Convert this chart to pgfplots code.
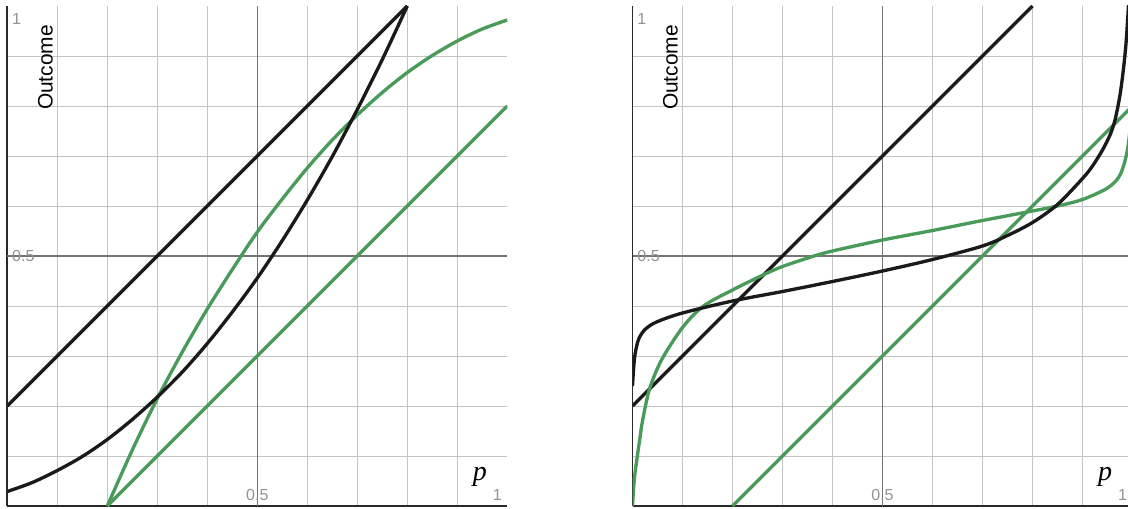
\documentclass[border=0pt]{standalone}
\usepackage{fontspec}
\setmainfont{Liberation Sans}
\newfontfamily\seriffont{Liberation Serif}
\usepackage{pgfplots}
\pgfplotsset{compat=1.18}
\definecolor{dgreen}{HTML}{4A9A5A}
\definecolor{cblack}{HTML}{1A1A1A}
\definecolor{minorgrid}{HTML}{C4C4C4}
\definecolor{majorgrid}{HTML}{737373}
\definecolor{axisc}{HTML}{2A2A2A}
\definecolor{lbl}{HTML}{929292}
\pgfplotsset{
  panel/.style={
    scale only axis, width=375pt, height=375pt,
    xmin=0, xmax=1, ymin=0, ymax=1,
    axis lines*=left,
    axis line style={color=axisc, line width=1.4pt, -},
    xtick={0.1,0.2,0.3,0.4,0.6,0.7,0.8,0.9},
    ytick={0.1,0.2,0.3,0.4,0.6,0.7,0.8,0.9},
    xticklabel=\empty, yticklabel=\empty,
    major tick length=0pt,
    grid=major,
    major grid style={color=minorgrid, line width=0.7pt},
    extra x ticks={0.5}, extra y ticks={0.5},
    extra x tick labels={}, extra y tick labels={},
    extra tick style={grid=major, major grid style={color=majorgrid, line width=0.8pt}},
    clip=true,
    every axis plot/.append style={mark=none},
  },
  bcurve/.style={color=cblack, line width=2.5pt},
  gcurve/.style={color=dgreen, line width=2.5pt},
}
\newcommand{\ticklabels}{%
  \node[anchor=base, yshift=4pt, inner sep=0pt, text=lbl, font=\fontsize{12}{14}\selectfont] at (axis cs:0.5,0) {0.5};
  \node[anchor=base east, xshift=-4pt, yshift=4pt, inner sep=0pt, text=lbl, font=\fontsize{12}{14}\selectfont] at (axis cs:1,0) {1};
  \node[anchor=west, xshift=3.5pt, inner sep=0pt, text=lbl, font=\fontsize{12}{14}\selectfont] at (axis cs:0,0.5) {0.5};
  \node[anchor=north west, xshift=3.5pt, yshift=-5.2pt, inner sep=0pt, text=lbl, font=\fontsize{12}{14}\selectfont] at (axis cs:0,1) {1};
  \node[rotate=90, inner sep=0pt, font=\fontsize{15.7}{18}\selectfont] at (axis cs:0.076,0.877) {Outcome};
  \node[inner sep=0pt, font=\seriffont\itshape\fontsize{21}{24}\selectfont] at (axis cs:0.945,0.058) {p};
}
\begin{document}
\begin{tikzpicture}
\begin{axis}[panel, at={(0pt,0pt)}, anchor=south west]
  \addplot[bcurve] coordinates {(0,0.2) (0.8,1)};
  \addplot[gcurve] coordinates {(0.2,0) (1,0.8)};
  \addplot[gcurve, smooth] coordinates {
    (0.2,0) (0.25,0.112) (0.3,0.215) (0.35,0.308) (0.4,0.394) (0.45,0.473)
    (0.5,0.548) (0.55,0.614) (0.6,0.676) (0.65,0.732) (0.7,0.782) (0.75,0.827)
    (0.8,0.867) (0.85,0.901) (0.9,0.930) (0.95,0.954) (1.0,0.972)};
  \addplot[bcurve, smooth] coordinates {
    (0,0.029) (0.05,0.047) (0.1,0.071) (0.15,0.099) (0.2,0.133) (0.25,0.173)
    (0.3,0.218) (0.35,0.268) (0.4,0.325) (0.45,0.388) (0.5,0.456) (0.55,0.531)
    (0.6,0.612) (0.65,0.699) (0.7,0.793) (0.75,0.893) (0.8,1.0)};
  \ticklabels
\end{axis}
\begin{axis}[panel, at={(468.9pt,0pt)}, anchor=south west]
  \addplot[bcurve] coordinates {(0,0.2) (0.8,1)};
  \addplot[gcurve] coordinates {(0.2,0) (1,0.8)};
  \addplot[gcurve, smooth] coordinates {
    (0,0) (0.002,0.033) (0.005,0.066) (0.0097,0.1) (0.015,0.137) (0.02,0.17)
    (0.034,0.234) (0.058,0.292) (0.1,0.357) (0.142,0.4) (0.2,0.432) (0.261,0.462)
    (0.3,0.479) (0.36,0.499) (0.4,0.51) (0.5,0.532) (0.6,0.551) (0.7,0.571)
    (0.8,0.59) (0.85,0.6) (0.9,0.613) (0.95,0.636) (0.975,0.662) (0.99,0.713)
    (1.0,0.8)};
  \addplot[bcurve, smooth] coordinates {
    (0,0.24) (0.002,0.272) (0.005,0.303) (0.012,0.333) (0.025,0.353) (0.048,0.368)
    (0.1,0.386) (0.2,0.41) (0.3,0.429) (0.4,0.449) (0.5,0.47) (0.6,0.493)
    (0.7,0.52) (0.75,0.541) (0.8,0.567) (0.85,0.603) (0.9,0.655) (0.92,0.68)
    (0.94,0.712) (0.955,0.742) (0.965,0.772) (0.975,0.822) (0.982,0.875)
    (0.987,0.925) (0.991,0.985) (0.994,1.04)};
  \ticklabels
\end{axis}
\pgfresetboundingbox
\path[use as bounding box] (-5.475pt,-1.5pt) rectangle (840.525pt,379.5pt);
\end{tikzpicture}
\end{document}
